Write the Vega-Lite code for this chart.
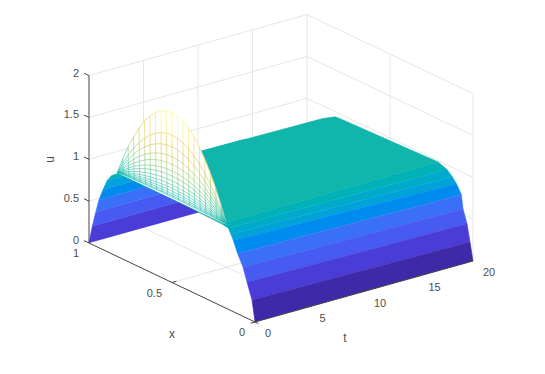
{"$schema":"https://vega.github.io/schema/vega-lite/v6.json","width":545,"height":374,"padding":0,"autosize":{"type":"none"},"background":"white","view":{"stroke":null},
"data":{"values":[
{"k":"g","id":"w1","o":0,"t":0,"x":1,"u":0.5},{"k":"g","id":"w1","o":1,"t":20,"x":1,"u":0.5},{"k":"g","id":"w1","o":2,"t":20,"x":0,"u":0.5},
{"k":"g","id":"w2","o":0,"t":0,"x":1,"u":1},{"k":"g","id":"w2","o":1,"t":20,"x":1,"u":1},{"k":"g","id":"w2","o":2,"t":20,"x":0,"u":1},
{"k":"g","id":"w3","o":0,"t":0,"x":1,"u":1.5},{"k":"g","id":"w3","o":1,"t":20,"x":1,"u":1.5},{"k":"g","id":"w3","o":2,"t":20,"x":0,"u":1.5},
{"k":"g","id":"w4","o":0,"t":0,"x":1,"u":2},{"k":"g","id":"w4","o":1,"t":20,"x":1,"u":2},{"k":"g","id":"w4","o":2,"t":20,"x":0,"u":2},
{"k":"g","id":"w0","o":0,"t":0,"x":1,"u":0},{"k":"g","id":"w0","o":1,"t":20,"x":1,"u":0},{"k":"g","id":"w0","o":2,"t":20,"x":0,"u":0},
{"k":"g","id":"v5","o":0,"t":5,"x":0,"u":0},{"k":"g","id":"v5","o":1,"t":5,"x":1,"u":0},{"k":"g","id":"v5","o":2,"t":5,"x":1,"u":2},
{"k":"g","id":"v10","o":0,"t":10,"x":0,"u":0},{"k":"g","id":"v10","o":1,"t":10,"x":1,"u":0},{"k":"g","id":"v10","o":2,"t":10,"x":1,"u":2},
{"k":"g","id":"v15","o":0,"t":15,"x":0,"u":0},{"k":"g","id":"v15","o":1,"t":15,"x":1,"u":0},{"k":"g","id":"v15","o":2,"t":15,"x":1,"u":2},
{"k":"g","id":"v20","o":0,"t":20,"x":1,"u":0},{"k":"g","id":"v20","o":1,"t":20,"x":1,"u":2},
{"k":"g","id":"m5","o":0,"t":0,"x":0.5,"u":0},{"k":"g","id":"m5","o":1,"t":20,"x":0.5,"u":0},{"k":"g","id":"m5","o":2,"t":20,"x":0.5,"u":2},
{"k":"g","id":"e0","o":0,"t":20,"x":0,"u":0},{"k":"g","id":"e0","o":1,"t":20,"x":0,"u":2},

{"k":"pl","id":"l0","c":0.22,"o":0,"t":0,"x":1,"u":0},{"k":"pl","id":"l0","c":0.22,"o":1,"t":0,"x":0.98,"u":0.22},{"k":"pl","id":"l0","c":0.22,"o":2,"t":12,"x":0.98,"u":0.22},{"k":"pl","id":"l0","c":0.22,"o":3,"t":12,"x":1,"u":0},
{"k":"pl","id":"l1","c":0.41,"o":0,"t":0,"x":0.98,"u":0.22},{"k":"pl","id":"l1","c":0.41,"o":1,"t":0,"x":0.959,"u":0.41},{"k":"pl","id":"l1","c":0.41,"o":2,"t":12,"x":0.959,"u":0.41},{"k":"pl","id":"l1","c":0.41,"o":3,"t":12,"x":0.98,"u":0.22},
{"k":"pl","id":"l2","c":0.57,"o":0,"t":0,"x":0.959,"u":0.41},{"k":"pl","id":"l2","c":0.57,"o":1,"t":0,"x":0.94,"u":0.57},{"k":"pl","id":"l2","c":0.57,"o":2,"t":12,"x":0.94,"u":0.57},{"k":"pl","id":"l2","c":0.57,"o":3,"t":12,"x":0.959,"u":0.41},
{"k":"pl","id":"l3","c":0.72,"o":0,"t":0,"x":0.94,"u":0.57},{"k":"pl","id":"l3","c":0.72,"o":1,"t":0,"x":0.915,"u":0.72},{"k":"pl","id":"l3","c":0.72,"o":2,"t":12,"x":0.915,"u":0.72},{"k":"pl","id":"l3","c":0.72,"o":3,"t":12,"x":0.94,"u":0.57},
{"k":"pl","id":"l4","c":0.85,"o":0,"t":0,"x":0.915,"u":0.72},{"k":"pl","id":"l4","c":0.85,"o":1,"t":0,"x":0.89,"u":0.85},{"k":"pl","id":"l4","c":0.85,"o":2,"t":12,"x":0.89,"u":0.85},{"k":"pl","id":"l4","c":0.85,"o":3,"t":12,"x":0.915,"u":0.72},
{"k":"pl","id":"l5","c":0.95,"o":0,"t":0,"x":0.89,"u":0.85},{"k":"pl","id":"l5","c":0.95,"o":1,"t":0,"x":0.865,"u":0.93},{"k":"pl","id":"l5","c":0.95,"o":2,"t":12,"x":0.865,"u":0.92},{"k":"pl","id":"l5","c":0.95,"o":3,"t":12,"x":0.89,"u":0.85},
{"k":"pl","id":"l6","c":1,"o":0,"t":0,"x":0.865,"u":0.93},{"k":"pl","id":"l6","c":1,"o":1,"t":0,"x":0.835,"u":0.98},{"k":"pl","id":"l6","c":1,"o":2,"t":12,"x":0.84,"u":0.95},{"k":"pl","id":"l6","c":1,"o":3,"t":12,"x":0.865,"u":0.92},

{"k":"pr","id":"top","c":1,"o":0,"t":0,"x":0.2,"u":0.985},{"k":"pr","id":"top","c":1,"o":1,"t":0,"x":0.5,"u":1},{"k":"pr","id":"top","c":1,"o":2,"t":0,"x":0.83,"u":0.99},{"k":"pr","id":"top","c":1,"o":3,"t":19,"x":0.84,"u":0.945},{"k":"pr","id":"top","c":1,"o":4,"t":20,"x":0.83,"u":0.94},{"k":"pr","id":"top","c":1,"o":5,"t":20,"x":0.8,"u":0.945},{"k":"pr","id":"top","c":1,"o":6,"t":20,"x":0.21,"u":0.984},
{"k":"pr","id":"r6","c":0.97,"o":0,"t":0,"x":0.16,"u":0.97},{"k":"pr","id":"r6","c":0.97,"o":1,"t":0,"x":0.2,"u":0.985},{"k":"pr","id":"r6","c":0.97,"o":2,"t":20,"x":0.21,"u":0.984},{"k":"pr","id":"r6","c":0.97,"o":3,"t":20,"x":0.157,"u":0.945},
{"k":"pr","id":"r5b","c":0.91,"o":0,"t":0,"x":0.145,"u":0.91},{"k":"pr","id":"r5b","c":0.91,"o":1,"t":0,"x":0.16,"u":0.97},{"k":"pr","id":"r5b","c":0.91,"o":2,"t":20,"x":0.157,"u":0.945},{"k":"pr","id":"r5b","c":0.91,"o":3,"t":20,"x":0.125,"u":0.89},
{"k":"pr","id":"r5","c":0.85,"o":0,"t":0,"x":0.13,"u":0.85},{"k":"pr","id":"r5","c":0.85,"o":1,"t":0,"x":0.145,"u":0.91},{"k":"pr","id":"r5","c":0.85,"o":2,"t":20,"x":0.125,"u":0.89},{"k":"pr","id":"r5","c":0.85,"o":3,"t":20,"x":0.1,"u":0.83},
{"k":"pr","id":"r4","c":0.72,"o":0,"t":0,"x":0.105,"u":0.72},{"k":"pr","id":"r4","c":0.72,"o":1,"t":0,"x":0.13,"u":0.85},{"k":"pr","id":"r4","c":0.72,"o":2,"t":20,"x":0.1,"u":0.83},{"k":"pr","id":"r4","c":0.72,"o":3,"t":20,"x":0.07,"u":0.726},
{"k":"pr","id":"r3","c":0.57,"o":0,"t":0,"x":0.072,"u":0.587},{"k":"pr","id":"r3","c":0.57,"o":1,"t":0,"x":0.105,"u":0.72},{"k":"pr","id":"r3","c":0.57,"o":2,"t":20,"x":0.07,"u":0.726},{"k":"pr","id":"r3","c":0.57,"o":3,"t":20,"x":0.06,"u":0.566},
{"k":"pr","id":"r2","c":0.41,"o":0,"t":0,"x":0.048,"u":0.43},{"k":"pr","id":"r2","c":0.41,"o":1,"t":0,"x":0.072,"u":0.587},{"k":"pr","id":"r2","c":0.41,"o":2,"t":20,"x":0.06,"u":0.566},{"k":"pr","id":"r2","c":0.41,"o":3,"t":20,"x":0.036,"u":0.41},
{"k":"pr","id":"r1","c":0.22,"o":0,"t":0,"x":0.018,"u":0.245},{"k":"pr","id":"r1","c":0.22,"o":1,"t":0,"x":0.048,"u":0.43},{"k":"pr","id":"r1","c":0.22,"o":2,"t":20,"x":0.036,"u":0.41},{"k":"pr","id":"r1","c":0.22,"o":3,"t":20,"x":0.018,"u":0.21},
{"k":"pr","id":"r0","c":0,"o":0,"t":0,"x":0,"u":0},{"k":"pr","id":"r0","c":0,"o":1,"t":0,"x":0.018,"u":0.245},{"k":"pr","id":"r0","c":0,"o":2,"t":20,"x":0.018,"u":0.21},{"k":"pr","id":"r0","c":0,"o":3,"t":20,"x":0,"u":0},

{"k":"m","t":0,"x":0.17,"u":1},{"k":"m","t":0,"x":0.203,"u":1.196},{"k":"m","t":0,"x":0.236,"u":1.371},{"k":"m","t":0,"x":0.269,"u":1.525},{"k":"m","t":0,"x":0.302,"u":1.659},{"k":"m","t":0,"x":0.335,"u":1.773},{"k":"m","t":0,"x":0.368,"u":1.865},{"k":"m","t":0,"x":0.401,"u":1.937},{"k":"m","t":0,"x":0.434,"u":1.989},{"k":"m","t":0,"x":0.467,"u":2.02},{"k":"m","t":0,"x":0.5,"u":2.03},{"k":"m","t":0,"x":0.533,"u":2.02},{"k":"m","t":0,"x":0.566,"u":1.989},{"k":"m","t":0,"x":0.599,"u":1.937},{"k":"m","t":0,"x":0.632,"u":1.865},{"k":"m","t":0,"x":0.665,"u":1.773},{"k":"m","t":0,"x":0.698,"u":1.659},{"k":"m","t":0,"x":0.731,"u":1.525},{"k":"m","t":0,"x":0.764,"u":1.371},{"k":"m","t":0,"x":0.797,"u":1.196},{"k":"m","t":0,"x":0.83,"u":1},
{"k":"m","t":0.005,"x":0.17,"u":1},{"k":"m","t":0.005,"x":0.203,"u":1.144},{"k":"m","t":0.005,"x":0.236,"u":1.274},{"k":"m","t":0.005,"x":0.269,"u":1.388},{"k":"m","t":0.005,"x":0.302,"u":1.486},{"k":"m","t":0.005,"x":0.335,"u":1.57},{"k":"m","t":0.005,"x":0.368,"u":1.638},{"k":"m","t":0.005,"x":0.401,"u":1.692},{"k":"m","t":0.005,"x":0.434,"u":1.73},{"k":"m","t":0.005,"x":0.467,"u":1.752},{"k":"m","t":0.005,"x":0.5,"u":1.76},{"k":"m","t":0.005,"x":0.533,"u":1.752},{"k":"m","t":0.005,"x":0.566,"u":1.73},{"k":"m","t":0.005,"x":0.599,"u":1.692},{"k":"m","t":0.005,"x":0.632,"u":1.638},{"k":"m","t":0.005,"x":0.665,"u":1.57},{"k":"m","t":0.005,"x":0.698,"u":1.486},{"k":"m","t":0.005,"x":0.731,"u":1.388},{"k":"m","t":0.005,"x":0.764,"u":1.274},{"k":"m","t":0.005,"x":0.797,"u":1.144},{"k":"m","t":0.005,"x":0.83,"u":1},
{"k":"m","t":0.01,"x":0.17,"u":1},{"k":"m","t":0.01,"x":0.203,"u":1.118},{"k":"m","t":0.01,"x":0.236,"u":1.223},{"k":"m","t":0.01,"x":0.269,"u":1.316},{"k":"m","t":0.01,"x":0.302,"u":1.397},{"k":"m","t":0.01,"x":0.335,"u":1.465},{"k":"m","t":0.01,"x":0.368,"u":1.521},{"k":"m","t":0.01,"x":0.401,"u":1.564},{"k":"m","t":0.01,"x":0.434,"u":1.595},{"k":"m","t":0.01,"x":0.467,"u":1.614},{"k":"m","t":0.01,"x":0.5,"u":1.62},{"k":"m","t":0.01,"x":0.533,"u":1.614},{"k":"m","t":0.01,"x":0.566,"u":1.595},{"k":"m","t":0.01,"x":0.599,"u":1.564},{"k":"m","t":0.01,"x":0.632,"u":1.521},{"k":"m","t":0.01,"x":0.665,"u":1.465},{"k":"m","t":0.01,"x":0.698,"u":1.397},{"k":"m","t":0.01,"x":0.731,"u":1.316},{"k":"m","t":0.01,"x":0.764,"u":1.223},{"k":"m","t":0.01,"x":0.797,"u":1.118},{"k":"m","t":0.01,"x":0.83,"u":1},
{"k":"m","t":0.015,"x":0.17,"u":1},{"k":"m","t":0.015,"x":0.203,"u":1.095},{"k":"m","t":0.015,"x":0.236,"u":1.18},{"k":"m","t":0.015,"x":0.269,"u":1.255},{"k":"m","t":0.015,"x":0.302,"u":1.32},{"k":"m","t":0.015,"x":0.335,"u":1.375},{"k":"m","t":0.015,"x":0.368,"u":1.42},{"k":"m","t":0.015,"x":0.401,"u":1.455},{"k":"m","t":0.015,"x":0.434,"u":1.48},{"k":"m","t":0.015,"x":0.467,"u":1.495},{"k":"m","t":0.015,"x":0.5,"u":1.5},{"k":"m","t":0.015,"x":0.533,"u":1.495},{"k":"m","t":0.015,"x":0.566,"u":1.48},{"k":"m","t":0.015,"x":0.599,"u":1.455},{"k":"m","t":0.015,"x":0.632,"u":1.42},{"k":"m","t":0.015,"x":0.665,"u":1.375},{"k":"m","t":0.015,"x":0.698,"u":1.32},{"k":"m","t":0.015,"x":0.731,"u":1.255},{"k":"m","t":0.015,"x":0.764,"u":1.18},{"k":"m","t":0.015,"x":0.797,"u":1.095},{"k":"m","t":0.015,"x":0.83,"u":1},
{"k":"m","t":0.02,"x":0.17,"u":1},{"k":"m","t":0.02,"x":0.203,"u":1.078},{"k":"m","t":0.02,"x":0.236,"u":1.148},{"k":"m","t":0.02,"x":0.269,"u":1.209},{"k":"m","t":0.02,"x":0.302,"u":1.262},{"k":"m","t":0.02,"x":0.335,"u":1.308},{"k":"m","t":0.02,"x":0.368,"u":1.344},{"k":"m","t":0.02,"x":0.401,"u":1.373},{"k":"m","t":0.02,"x":0.434,"u":1.394},{"k":"m","t":0.02,"x":0.467,"u":1.406},{"k":"m","t":0.02,"x":0.5,"u":1.41},{"k":"m","t":0.02,"x":0.533,"u":1.406},{"k":"m","t":0.02,"x":0.566,"u":1.394},{"k":"m","t":0.02,"x":0.599,"u":1.373},{"k":"m","t":0.02,"x":0.632,"u":1.344},{"k":"m","t":0.02,"x":0.665,"u":1.308},{"k":"m","t":0.02,"x":0.698,"u":1.262},{"k":"m","t":0.02,"x":0.731,"u":1.209},{"k":"m","t":0.02,"x":0.764,"u":1.148},{"k":"m","t":0.02,"x":0.797,"u":1.078},{"k":"m","t":0.02,"x":0.83,"u":1},
{"k":"m","t":0.025,"x":0.17,"u":1},{"k":"m","t":0.025,"x":0.203,"u":1.063},{"k":"m","t":0.025,"x":0.236,"u":1.119},{"k":"m","t":0.025,"x":0.269,"u":1.168},{"k":"m","t":0.025,"x":0.302,"u":1.211},{"k":"m","t":0.025,"x":0.335,"u":1.248},{"k":"m","t":0.025,"x":0.368,"u":1.277},{"k":"m","t":0.025,"x":0.401,"u":1.3},{"k":"m","t":0.025,"x":0.434,"u":1.317},{"k":"m","t":0.025,"x":0.467,"u":1.327},{"k":"m","t":0.025,"x":0.5,"u":1.33},{"k":"m","t":0.025,"x":0.533,"u":1.327},{"k":"m","t":0.025,"x":0.566,"u":1.317},{"k":"m","t":0.025,"x":0.599,"u":1.3},{"k":"m","t":0.025,"x":0.632,"u":1.277},{"k":"m","t":0.025,"x":0.665,"u":1.248},{"k":"m","t":0.025,"x":0.698,"u":1.211},{"k":"m","t":0.025,"x":0.731,"u":1.168},{"k":"m","t":0.025,"x":0.764,"u":1.119},{"k":"m","t":0.025,"x":0.797,"u":1.063},{"k":"m","t":0.025,"x":0.83,"u":1},
{"k":"m","t":0.03,"x":0.17,"u":1},{"k":"m","t":0.03,"x":0.203,"u":1.051},{"k":"m","t":0.03,"x":0.236,"u":1.097},{"k":"m","t":0.03,"x":0.269,"u":1.138},{"k":"m","t":0.03,"x":0.302,"u":1.173},{"k":"m","t":0.03,"x":0.335,"u":1.203},{"k":"m","t":0.03,"x":0.368,"u":1.227},{"k":"m","t":0.03,"x":0.401,"u":1.246},{"k":"m","t":0.03,"x":0.434,"u":1.259},{"k":"m","t":0.03,"x":0.467,"u":1.267},{"k":"m","t":0.03,"x":0.5,"u":1.27},{"k":"m","t":0.03,"x":0.533,"u":1.267},{"k":"m","t":0.03,"x":0.566,"u":1.259},{"k":"m","t":0.03,"x":0.599,"u":1.246},{"k":"m","t":0.03,"x":0.632,"u":1.227},{"k":"m","t":0.03,"x":0.665,"u":1.203},{"k":"m","t":0.03,"x":0.698,"u":1.173},{"k":"m","t":0.03,"x":0.731,"u":1.138},{"k":"m","t":0.03,"x":0.764,"u":1.097},{"k":"m","t":0.03,"x":0.797,"u":1.051},{"k":"m","t":0.03,"x":0.83,"u":1},
{"k":"m","t":0.04,"x":0.17,"u":1},{"k":"m","t":0.04,"x":0.203,"u":1.04},{"k":"m","t":0.04,"x":0.236,"u":1.076},{"k":"m","t":0.04,"x":0.269,"u":1.107},{"k":"m","t":0.04,"x":0.302,"u":1.134},{"k":"m","t":0.04,"x":0.335,"u":1.158},{"k":"m","t":0.04,"x":0.368,"u":1.176},{"k":"m","t":0.04,"x":0.401,"u":1.191},{"k":"m","t":0.04,"x":0.434,"u":1.202},{"k":"m","t":0.04,"x":0.467,"u":1.208},{"k":"m","t":0.04,"x":0.5,"u":1.21},{"k":"m","t":0.04,"x":0.533,"u":1.208},{"k":"m","t":0.04,"x":0.566,"u":1.202},{"k":"m","t":0.04,"x":0.599,"u":1.191},{"k":"m","t":0.04,"x":0.632,"u":1.176},{"k":"m","t":0.04,"x":0.665,"u":1.158},{"k":"m","t":0.04,"x":0.698,"u":1.134},{"k":"m","t":0.04,"x":0.731,"u":1.107},{"k":"m","t":0.04,"x":0.764,"u":1.076},{"k":"m","t":0.04,"x":0.797,"u":1.04},{"k":"m","t":0.04,"x":0.83,"u":1},
{"k":"m","t":0.05,"x":0.17,"u":1},{"k":"m","t":0.05,"x":0.203,"u":1.03},{"k":"m","t":0.05,"x":0.236,"u":1.058},{"k":"m","t":0.05,"x":0.269,"u":1.082},{"k":"m","t":0.05,"x":0.302,"u":1.102},{"k":"m","t":0.05,"x":0.335,"u":1.12},{"k":"m","t":0.05,"x":0.368,"u":1.134},{"k":"m","t":0.05,"x":0.401,"u":1.146},{"k":"m","t":0.05,"x":0.434,"u":1.154},{"k":"m","t":0.05,"x":0.467,"u":1.158},{"k":"m","t":0.05,"x":0.5,"u":1.16},{"k":"m","t":0.05,"x":0.533,"u":1.158},{"k":"m","t":0.05,"x":0.566,"u":1.154},{"k":"m","t":0.05,"x":0.599,"u":1.146},{"k":"m","t":0.05,"x":0.632,"u":1.134},{"k":"m","t":0.05,"x":0.665,"u":1.12},{"k":"m","t":0.05,"x":0.698,"u":1.102},{"k":"m","t":0.05,"x":0.731,"u":1.082},{"k":"m","t":0.05,"x":0.764,"u":1.058},{"k":"m","t":0.05,"x":0.797,"u":1.03},{"k":"m","t":0.05,"x":0.83,"u":1},
{"k":"m","t":0.06,"x":0.17,"u":1},{"k":"m","t":0.06,"x":0.203,"u":1.023},{"k":"m","t":0.06,"x":0.236,"u":1.043},{"k":"m","t":0.06,"x":0.269,"u":1.061},{"k":"m","t":0.06,"x":0.302,"u":1.077},{"k":"m","t":0.06,"x":0.335,"u":1.09},{"k":"m","t":0.06,"x":0.368,"u":1.101},{"k":"m","t":0.06,"x":0.401,"u":1.109},{"k":"m","t":0.06,"x":0.434,"u":1.115},{"k":"m","t":0.06,"x":0.467,"u":1.119},{"k":"m","t":0.06,"x":0.5,"u":1.12},{"k":"m","t":0.06,"x":0.533,"u":1.119},{"k":"m","t":0.06,"x":0.566,"u":1.115},{"k":"m","t":0.06,"x":0.599,"u":1.109},{"k":"m","t":0.06,"x":0.632,"u":1.101},{"k":"m","t":0.06,"x":0.665,"u":1.09},{"k":"m","t":0.06,"x":0.698,"u":1.077},{"k":"m","t":0.06,"x":0.731,"u":1.061},{"k":"m","t":0.06,"x":0.764,"u":1.043},{"k":"m","t":0.06,"x":0.797,"u":1.023},{"k":"m","t":0.06,"x":0.83,"u":1},
{"k":"m","t":0.07,"x":0.17,"u":1},{"k":"m","t":0.07,"x":0.203,"u":1.016},{"k":"m","t":0.07,"x":0.236,"u":1.031},{"k":"m","t":0.07,"x":0.269,"u":1.043},{"k":"m","t":0.07,"x":0.302,"u":1.054},{"k":"m","t":0.07,"x":0.335,"u":1.064},{"k":"m","t":0.07,"x":0.368,"u":1.071},{"k":"m","t":0.07,"x":0.401,"u":1.077},{"k":"m","t":0.07,"x":0.434,"u":1.082},{"k":"m","t":0.07,"x":0.467,"u":1.084},{"k":"m","t":0.07,"x":0.5,"u":1.085},{"k":"m","t":0.07,"x":0.533,"u":1.084},{"k":"m","t":0.07,"x":0.566,"u":1.082},{"k":"m","t":0.07,"x":0.599,"u":1.077},{"k":"m","t":0.07,"x":0.632,"u":1.071},{"k":"m","t":0.07,"x":0.665,"u":1.064},{"k":"m","t":0.07,"x":0.698,"u":1.054},{"k":"m","t":0.07,"x":0.731,"u":1.043},{"k":"m","t":0.07,"x":0.764,"u":1.031},{"k":"m","t":0.07,"x":0.797,"u":1.016},{"k":"m","t":0.07,"x":0.83,"u":1},
{"k":"m","t":0.08,"x":0.17,"u":1},{"k":"m","t":0.08,"x":0.203,"u":1.01},{"k":"m","t":0.08,"x":0.236,"u":1.02},{"k":"m","t":0.08,"x":0.269,"u":1.028},{"k":"m","t":0.08,"x":0.302,"u":1.035},{"k":"m","t":0.08,"x":0.335,"u":1.041},{"k":"m","t":0.08,"x":0.368,"u":1.046},{"k":"m","t":0.08,"x":0.401,"u":1.05},{"k":"m","t":0.08,"x":0.434,"u":1.053},{"k":"m","t":0.08,"x":0.467,"u":1.054},{"k":"m","t":0.08,"x":0.5,"u":1.055},{"k":"m","t":0.08,"x":0.533,"u":1.054},{"k":"m","t":0.08,"x":0.566,"u":1.053},{"k":"m","t":0.08,"x":0.599,"u":1.05},{"k":"m","t":0.08,"x":0.632,"u":1.046},{"k":"m","t":0.08,"x":0.665,"u":1.041},{"k":"m","t":0.08,"x":0.698,"u":1.035},{"k":"m","t":0.08,"x":0.731,"u":1.028},{"k":"m","t":0.08,"x":0.764,"u":1.02},{"k":"m","t":0.08,"x":0.797,"u":1.01},{"k":"m","t":0.08,"x":0.83,"u":1},
{"k":"m","t":0.09,"x":0.17,"u":1},{"k":"m","t":0.09,"x":0.203,"u":1.006},{"k":"m","t":0.09,"x":0.236,"u":1.011},{"k":"m","t":0.09,"x":0.269,"u":1.015},{"k":"m","t":0.09,"x":0.302,"u":1.019},{"k":"m","t":0.09,"x":0.335,"u":1.023},{"k":"m","t":0.09,"x":0.368,"u":1.025},{"k":"m","t":0.09,"x":0.401,"u":1.027},{"k":"m","t":0.09,"x":0.434,"u":1.029},{"k":"m","t":0.09,"x":0.467,"u":1.03},{"k":"m","t":0.09,"x":0.5,"u":1.03},{"k":"m","t":0.09,"x":0.533,"u":1.03},{"k":"m","t":0.09,"x":0.566,"u":1.029},{"k":"m","t":0.09,"x":0.599,"u":1.027},{"k":"m","t":0.09,"x":0.632,"u":1.025},{"k":"m","t":0.09,"x":0.665,"u":1.023},{"k":"m","t":0.09,"x":0.698,"u":1.019},{"k":"m","t":0.09,"x":0.731,"u":1.015},{"k":"m","t":0.09,"x":0.764,"u":1.011},{"k":"m","t":0.09,"x":0.797,"u":1.006},{"k":"m","t":0.09,"x":0.83,"u":1},
{"k":"m","t":0.1,"x":0.17,"u":1},{"k":"m","t":0.1,"x":0.203,"u":1.002},{"k":"m","t":0.1,"x":0.236,"u":1.004},{"k":"m","t":0.1,"x":0.269,"u":1.006},{"k":"m","t":0.1,"x":0.302,"u":1.008},{"k":"m","t":0.1,"x":0.335,"u":1.009},{"k":"m","t":0.1,"x":0.368,"u":1.01},{"k":"m","t":0.1,"x":0.401,"u":1.011},{"k":"m","t":0.1,"x":0.434,"u":1.012},{"k":"m","t":0.1,"x":0.467,"u":1.012},{"k":"m","t":0.1,"x":0.5,"u":1.012},{"k":"m","t":0.1,"x":0.533,"u":1.012},{"k":"m","t":0.1,"x":0.566,"u":1.012},{"k":"m","t":0.1,"x":0.599,"u":1.012},{"k":"m","t":0.1,"x":0.632,"u":1.01},{"k":"m","t":0.1,"x":0.665,"u":1.009},{"k":"m","t":0.1,"x":0.698,"u":1.008},{"k":"m","t":0.1,"x":0.731,"u":1.006},{"k":"m","t":0.1,"x":0.764,"u":1.004},{"k":"m","t":0.1,"x":0.797,"u":1.002},{"k":"m","t":0.1,"x":0.83,"u":1},

{"k":"a","id":"au","o":0,"t":0,"x":1,"u":0},{"k":"a","id":"au","o":1,"t":0,"x":1,"u":2},
{"k":"a","id":"ax","o":0,"t":0,"x":1,"u":0},{"k":"a","id":"ax","o":1,"t":0,"x":0,"u":0},
{"k":"a","id":"at","o":0,"t":0,"x":0,"u":0},{"k":"a","id":"at","o":1,"t":20,"x":0,"u":0},
{"k":"a","id":"tu0","o":0,"t":0,"x":1,"u":0},{"k":"a","id":"tu0","o":1,"t":0,"x":1.03,"u":0},
{"k":"a","id":"tu1","o":0,"t":0,"x":1,"u":0.5},{"k":"a","id":"tu1","o":1,"t":0,"x":1.03,"u":0.5},
{"k":"a","id":"tu2","o":0,"t":0,"x":1,"u":1},{"k":"a","id":"tu2","o":1,"t":0,"x":1.03,"u":1},
{"k":"a","id":"tu3","o":0,"t":0,"x":1,"u":1.5},{"k":"a","id":"tu3","o":1,"t":0,"x":1.03,"u":1.5},
{"k":"a","id":"tu4","o":0,"t":0,"x":1,"u":2},{"k":"a","id":"tu4","o":1,"t":0,"x":1.03,"u":2},
{"k":"a","id":"tx0","o":0,"t":0,"x":0,"u":0},{"k":"a","id":"tx0","o":1,"t":-0.4,"x":0,"u":0},
{"k":"a","id":"tx1","o":0,"t":0,"x":0.5,"u":0},{"k":"a","id":"tx1","o":1,"t":0.4,"x":0.5,"u":0},
{"k":"a","id":"tt0","o":0,"t":0,"x":0,"u":0},{"k":"a","id":"tt0","o":1,"t":0,"x":-0.02,"u":0},
{"k":"a","id":"tt5","o":0,"t":5,"x":0,"u":0},{"k":"a","id":"tt5","o":1,"t":5,"x":0.02,"u":0},
{"k":"a","id":"tt10","o":0,"t":10,"x":0,"u":0},{"k":"a","id":"tt10","o":1,"t":10,"x":0.02,"u":0},
{"k":"a","id":"tt15","o":0,"t":15,"x":0,"u":0},{"k":"a","id":"tt15","o":1,"t":15,"x":0.02,"u":0},
{"k":"a","id":"tt20","o":0,"t":20,"x":0,"u":0},{"k":"a","id":"tt20","o":1,"t":20,"x":0.02,"u":0},

{"k":"lu","label":"0","t":0,"x":1,"u":0},{"k":"lu","label":"0.5","t":0,"x":1,"u":0.5},{"k":"lu","label":"1","t":0,"x":1,"u":1},{"k":"lu","label":"1.5","t":0,"x":1,"u":1.5},{"k":"lu","label":"2","t":0,"x":1,"u":2},
{"k":"lx","label":"0","t":0,"x":0,"u":0},{"k":"lx","label":"0.5","t":0,"x":0.5,"u":0},{"k":"lx","label":"1","t":0,"x":1,"u":0},
{"k":"lt","label":"0","t":0,"x":0,"u":0},{"k":"lt","label":"5","t":5,"x":0,"u":0},{"k":"lt","label":"10","t":10,"x":0,"u":0},{"k":"lt","label":"15","t":15,"x":0,"u":0},{"k":"lt","label":"20","t":20,"x":0,"u":0},
{"k":"tu","label":"u","t":0,"x":1,"u":1},{"k":"tx","label":"x","t":0,"x":0.5,"u":0},{"k":"tt","label":"t","t":10,"x":0,"u":0}
]},
"transform":[{"calculate":"255+10.9*datum.t-166*datum.x","as":"h"},{"calculate":"322-3.05*datum.t-79*datum.x-83.7*datum.u","as":"v"}],
"encoding":{
"x":{"field":"h","type":"quantitative","axis":null,"scale":{"domain":[0,545],"nice":false,"zero":false}},
"y":{"field":"v","type":"quantitative","axis":null,"scale":{"domain":[374,0],"nice":false,"zero":false}}
},
"layer":[
{"transform":[{"filter":"datum.k==='g'"}],"mark":{"type":"line","stroke":"#e6e6e6","strokeWidth":1},"encoding":{"detail":{"field":"id"},"order":{"field":"o","type":"quantitative"}}},
{"transform":[{"filter":"datum.k==='pl'"}],"mark":{"type":"line","strokeWidth":0.6},"encoding":{"detail":{"field":"id"},"order":{"field":"o","type":"quantitative"},
"fill":{"field":"c","type":"quantitative","legend":null,"scale":{"domain":[0,0.2,0.4,0.6,0.8,1,1.2,1.4,1.6,1.8,2],"range":["#3e2aa8","#4a3ad4","#4858f0","#3874f8","#1e98e2","#10b5ac","#48c48c","#a0c860","#d8c048","#f0cc40","#f9f56a"]}},
"stroke":{"field":"c","type":"quantitative","legend":null,"scale":{"domain":[0,0.2,0.4,0.6,0.8,1,1.2,1.4,1.6,1.8,2],"range":["#3e2aa8","#4a3ad4","#4858f0","#3874f8","#1e98e2","#10b5ac","#48c48c","#a0c860","#d8c048","#f0cc40","#f9f56a"]}}}},
{"transform":[{"filter":"datum.k==='pr'"}],"mark":{"type":"line","strokeWidth":0.6},"encoding":{"detail":{"field":"id"},"order":{"field":"o","type":"quantitative"},
"fill":{"field":"c","type":"quantitative","legend":null},
"stroke":{"field":"c","type":"quantitative","legend":null}}},
{"transform":[{"filter":"datum.k==='m'&&datum.t===0"}],"mark":{"type":"line","fill":"white","stroke":"white","strokeWidth":0.5},"encoding":{"order":{"field":"x","type":"quantitative"}}},
{"transform":[{"filter":"datum.k==='m'"},{"window":[{"op":"lead","field":"h","as":"h2"},{"op":"lead","field":"v","as":"v2"},{"op":"lead","field":"u","as":"u2"}],"groupby":["t"],"sort":[{"field":"x"}]},{"filter":"isValid(datum.h2)"}],"mark":{"type":"rule","strokeWidth":0.7,"opacity":0.8},"encoding":{"x2":{"field":"h2"},"y2":{"field":"v2"},"stroke":{"field":"u2","type":"quantitative","legend":null}}},
{"transform":[{"filter":"datum.k==='m'"},{"window":[{"op":"lead","field":"h","as":"h2"},{"op":"lead","field":"v","as":"v2"},{"op":"lead","field":"u","as":"u2"}],"groupby":["x"],"sort":[{"field":"t"}]},{"filter":"isValid(datum.h2)"}],"mark":{"type":"rule","strokeWidth":0.7,"opacity":0.8},"encoding":{"x2":{"field":"h2"},"y2":{"field":"v2"},"stroke":{"field":"u","type":"quantitative","legend":null}}},
{"transform":[{"filter":"datum.k==='a'"}],"mark":{"type":"line","stroke":"#444444","strokeWidth":1},"encoding":{"detail":{"field":"id"},"order":{"field":"o","type":"quantitative"}}},
{"transform":[{"filter":"datum.k==='lu'"}],"mark":{"type":"text","align":"right","baseline":"middle","dx":-10,"dy":-2,"font":"Liberation Sans","fontSize":11,"fill":"#4d4d4d"},"encoding":{"text":{"field":"label"}}},
{"transform":[{"filter":"datum.k==='lx'"}],"mark":{"type":"text","align":"right","baseline":"middle","dx":-10,"dy":11,"font":"Liberation Sans","fontSize":11,"fill":"#4d4d4d"},"encoding":{"text":{"field":"label"}}},
{"transform":[{"filter":"datum.k==='lt'"}],"mark":{"type":"text","align":"left","baseline":"middle","dx":10,"dy":12,"font":"Liberation Sans","fontSize":11,"fill":"#4d4d4d"},"encoding":{"text":{"field":"label"}}},
{"transform":[{"filter":"datum.k==='tu'"}],"mark":{"type":"text","align":"center","baseline":"middle","dx":0,"dy":-39,"angle":270,"font":"Liberation Sans","fontSize":12,"fill":"#4d4d4d"},"encoding":{"text":{"field":"label"}}},
{"transform":[{"filter":"datum.k==='tx'"}],"mark":{"type":"text","align":"center","baseline":"middle","dy":51,"font":"Liberation Sans","fontSize":12,"fill":"#4d4d4d"},"encoding":{"text":{"field":"label"}}},
{"transform":[{"filter":"datum.k==='tt'"}],"mark":{"type":"text","align":"center","baseline":"middle","dx":-19,"dy":46,"font":"Liberation Sans","fontSize":12,"fill":"#4d4d4d"},"encoding":{"text":{"field":"label"}}}
]}
